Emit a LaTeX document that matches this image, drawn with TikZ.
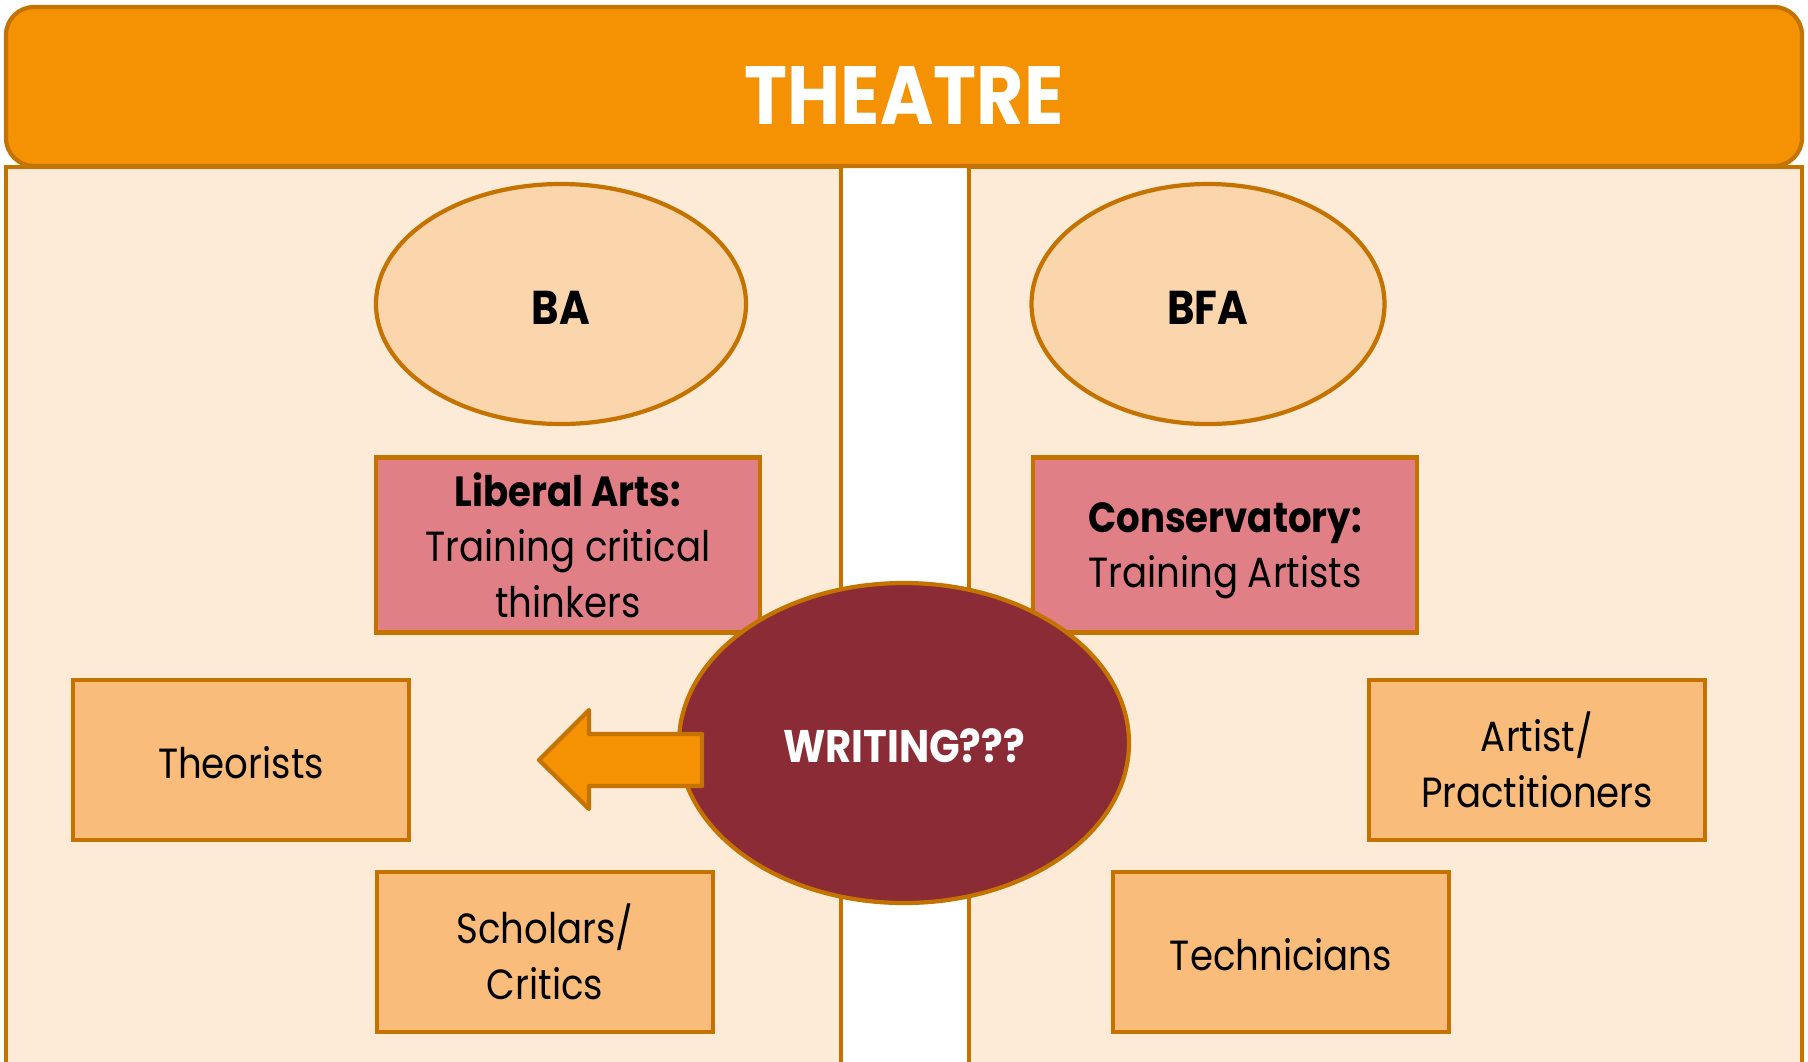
\documentclass[tikz,border=0pt]{standalone}
\usepackage{fontspec}
\setmainfont{Poppins}[FakeStretch=0.88]
\newfontfamily\headfont{Poppins}[FakeStretch=0.88]
\usetikzlibrary{shapes.geometric}

\definecolor{edge}{HTML}{C47200}
\definecolor{banner}{HTML}{F59203}
\definecolor{panelbg}{HTML}{FDEAD7}
\definecolor{degreebg}{HTML}{FBD6AC}
\definecolor{trackbg}{HTML}{E17F87}
\definecolor{rolebg}{HTML}{F9BC7A}
\definecolor{wine}{HTML}{8A2B35}

\newcommand{\bodysize}{\fontsize{12}{15.8}\selectfont}

\tikzset{
  outline/.style={draw=edge, line width=1.2pt},
  panel/.style={outline, fill=panelbg},
  degree/.style={outline, ellipse, fill=degreebg, inner sep=0pt,
    text height=11.6pt, text depth=0pt,
    minimum height=24mm, font=\bfseries\fontsize{13.5}{16}\selectfont},
  track/.style={outline, rectangle, fill=trackbg, align=center, text depth=0pt,
    minimum width=38.4mm, minimum height=17.5mm, font=\bodysize},
  role/.style={outline, rectangle, fill=rolebg, align=center,
    minimum width=33.6mm, minimum height=16mm, font=\bodysize},
  oneline/.style={text height=10.6pt, text depth=0pt},
  focus/.style={outline, ellipse, fill=wine, text=white, inner sep=0pt,
    text height=11pt, text depth=0pt,
    minimum width=45mm, minimum height=32mm, font=\bfseries\fontsize{13}{16}\selectfont},
  pointer/.style={outline, fill=banner, line join=round},
}

\begin{document}
\begin{tikzpicture}[x=0.1mm,y=-0.1mm]
\useasboundingbox (0,0) rectangle (1808,1061);
\clip (0,0) rectangle (1808,1061);

% two columns under the banner
\draw[panel] (6,167) rectangle (841,1080);
\draw[panel] (969,167) rectangle (1802,1080);

% banner
\draw[outline, fill=banner, rounded corners=2.8mm] (6,7) rectangle (1802,166);
\node[text=white, font=\headfont\bfseries\fontsize{23.5}{26}\selectfont] (title) at (904,96) {THEATRE};

% degrees
\node[degree, minimum width=37mm] (ba) at (561,304) {BA};
\node[degree, minimum width=35.3mm] (bfa) at (1208,304) {BFA};

% training focus
\node[track] (liberal) at (568,545) {\textbf{Liberal Arts:}\\Training critical\\thinkers};
\node[track] (conserv) at (1225,545) {\textbf{Conservatory:}\\Training Artists};

% careers
\node[role, oneline] (theory) at (241,760) {Theorists};
\node[role] (scholar) at (545,952) {Scholars/\\Critics};
\node[role] (artist) at (1537,760) {Artist/\\Practitioners};
\node[role, oneline] (tech) at (1281,952) {Technicians};

% the open question
\node[focus] (writing) at (904,743) {WRITING???};
\draw[pointer] (702,734) -- (589,734) -- (589,710) -- (539,760)
  -- (589,809) -- (589,786) -- (702,786) -- cycle;
\end{tikzpicture}
\end{document}
